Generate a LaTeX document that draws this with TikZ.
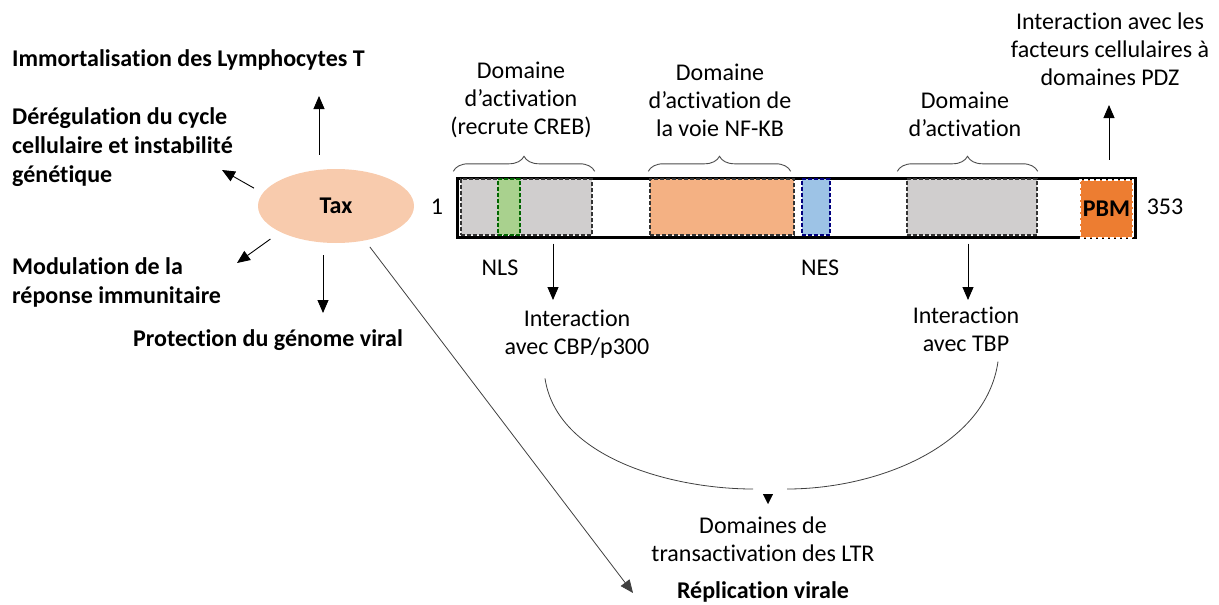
\documentclass[tikz,border=0pt]{standalone}
\usepackage{fontspec}
\setmainfont{Carlito}[Ligatures={NoCommon,NoContextual},Contextuals=NoAlternate]
\usetikzlibrary{positioning}
\usetikzlibrary{arrows.meta,shapes.geometric,decorations.pathreplacing}

\definecolor{taxfill}{HTML}{F8CBAD}
\definecolor{boxgray}{HTML}{D0CECE}
\definecolor{boxgreen}{HTML}{A9D18E}
\definecolor{boxsalmon}{HTML}{F4B183}
\definecolor{boxblue}{HTML}{9DC3E6}
\definecolor{boxorange}{HTML}{ED7D31}

\begin{document}
\begin{tikzpicture}[x=1pt, y=-1pt,
	lbl/.style={align=center, inner sep=0pt, font=\fontsize{24}{28}\selectfont},
	blbl/.style={align=left, inner sep=0pt, anchor=west, font=\fontsize{24}{29}\selectfont\bfseries},
	dombox/.style={draw=black!80, line width=1.4pt, dash pattern=on 4pt off 2pt, inner sep=0pt, minimum height=56pt},
	brc/.style={draw=black!70, line width=0.9pt, decorate, decoration={brace, amplitude=15pt}},
	arr/.style={-{Triangle[length=13pt,width=11pt]}, line width=0.9pt},
	arcline/.style={draw=black!75, line width=0.8pt}]
	\useasboundingbox (0,0) rectangle (1219,605);
	% protein bar
	\node[draw, line width=3pt, fill=white, inner sep=0pt, minimum width=678pt, minimum height=59pt] (bar) at (796,207.5) {};
	\node[dombox, fill=boxgray, minimum width=131pt] (crebbox) at (526.5,207) {};
	\node[dombox, draw=green!40!black, fill=boxgreen, minimum width=22pt] (nlsbox) at (509,207) {};
	\node[dombox, fill=boxsalmon, minimum width=144pt] (nfkbbox) at (722,207) {};
	\node[dombox, draw=blue!50!black, fill=boxblue, minimum width=28pt] (nesbox) at (816,207) {};
	\node[dombox, fill=boxgray, minimum width=130pt] (tbpbox) at (972,207) {};
	\node[dombox, draw=white, fill=boxorange, minimum width=53pt, minimum height=58pt, font=\fontsize{24}{28}\selectfont\bfseries] (pbm) at (1106.5,209) {PBM};
	\node[lbl] (one) at (437,207) {1};
	\node[lbl] (end) at (1165,207) {353};
	\node[lbl] (nls) at (500,268) {NLS};
	\node[lbl] (nes) at (820,268) {NES};
	% braces and domains
	\draw[brc] ([shift={(-7,-7)}]crebbox.north west) -- ([shift={(2,-7)}]crebbox.north east);
	\draw[brc] ([shift={(-1,-7)}]nfkbbox.north west) -- ([shift={(-4,-7)}]nfkbbox.north east);
	\draw[brc] ([shift={(-9,-7)}]tbpbox.north west) -- ([shift={(0,-7)}]tbpbox.north east);
	\node[lbl] (crebdom) at (521,100) {Domaine\\d’activation\\(recrute CREB)};
	\node[lbl] (nfkbdom) at (720,100) {Domaine\\d’activation de\\la voie NF-KB};
	\node[lbl] (tbpdom) at (965,114) {Domaine\\d’activation};
	\node[lbl] (pdz) at (1110,49) {Interaction avec les\\facteurs cellulaires à\\domaines PDZ};
	\coordinate (pdztip) at (1109,105);
	\draw[arr, shorten <=17pt] (bar.north -| pdztip) -- (pdztip);
	% interactions
	\node[lbl] (cbp) at (577,334) {Interaction\\avec CBP/p300};
	\node[lbl] (tbp) at (966,329) {Interaction\\avec TBP};
	\coordinate (cbptip) at (553,300);
	\coordinate (tbptip) at (968,300);
	\draw[arr, shorten <=5pt] (bar.south -| cbptip) -- (cbptip);
	\draw[arr, shorten <=5pt] (bar.south -| tbptip) -- (tbptip);
	\node[lbl] (ltr) at (763,539) {Domaines de\\transactivation des LTR};
	\coordinate (arcleft) at (753,489);
	\coordinate (arcright) at (787,489);
	\coordinate (ltrtip) at (768,504);
	\draw[arcline] ([shift={(-32,20)}]cbp.south) .. controls +(12,80) and +(-80,0) .. (arcleft);
	\draw[arcline] ([shift={(32,10)}]tbp.south) .. controls +(-12,85) and +(90,0) .. (arcright);
	\draw[-{Triangle[length=10pt,width=10pt]}] (ltrtip) ++(0,-10) -- (ltrtip);
	% Tax and its effects
	\node[ellipse, fill=taxfill, inner sep=0pt, minimum width=156pt, minimum height=74pt, font=\fontsize{24}{28}\selectfont\bfseries] (tax) at (336,206) {Tax};
	\node[blbl] (imm) at (12,60) {Immortalisation des Lymphocytes T};
	\node[blbl] (dereg) at (12,147) {Dérégulation du cycle\\cellulaire et instabilité\\génétique};
	\node[blbl] (modul) at (12,282) {Modulation de la\\réponse immunitaire};
	\node[blbl] (prot) at (133,340) {Protection du génome viral};
	\node[lbl, font=\fontsize{24}{28}\selectfont\bfseries] (repl) at (763,592) {Réplication virale};
	\coordinate (immtip) at (319,96);
	\coordinate (deregtip) at (222,170);
	\coordinate (modultip) at (237,263);
	\coordinate (prottip) at (323,313);
	\coordinate (repltip) at (633,593);
	\draw[arr, shorten <=14pt] (tax.north -| immtip) -- (immtip);
	\draw[arr, shorten <=10pt] (tax.170) -- (deregtip);
	\draw[arr, shorten <=12pt] (tax.205) -- (modultip);
	\draw[arr, shorten <=12pt] (tax.south -| prottip) -- (prottip);
	\draw[arr, draw=black!75, line width=0.8pt, shorten <=8pt] (tax.-50) -- (repltip);
\end{tikzpicture}
\end{document}
